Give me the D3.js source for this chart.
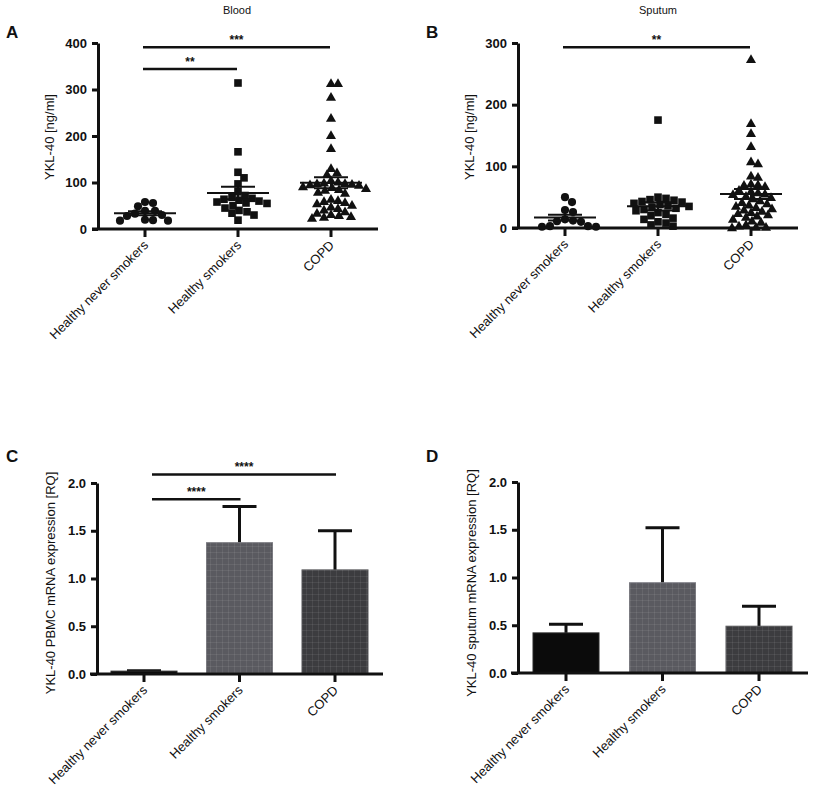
<!DOCTYPE html>
<html><head><meta charset="utf-8">
<script src="https://cdn.jsdelivr.net/npm/d3@7"></script>
<style>
body{margin:0;background:#fff}
text{font-family:"Liberation Sans",Arial,sans-serif;fill:#111}
</style>
</head><body>
<svg id="c" width="814" height="792"></svg>
<script>
// ---------------- DATA ----------------
const categories = ["Healthy never smokers", "Healthy smokers", "COPD"];

// Panel A: Blood YKL-40 [ng/ml]
const bloodNever   = [58, 56, 49, 39, 39, 33, 30, 28, 19, 18, 18, 20];
const bloodSmokers = [314, 166, 122, 110, 97, 80, 72, 68, 66, 64, 62, 60, 58, 56, 55, 50, 45, 40, 37, 34, 30, 19];
const bloodCOPD    = [314, 314, 284, 239, 202, 174, 131, 122, 118, 105, 102, 100, 99, 98, 97, 96, 95, 92, 90, 88,
                      86, 84, 80, 78, 65, 62, 60, 58, 55, 52, 48, 45, 42, 38, 35, 32, 30, 28, 26, 24];
const bloodTicks = [0, 100, 200, 300, 400];
const bloodSig = [{a: 0, b: 2, level: 391, label: "***"}, {a: 0, b: 1, level: 344, label: "**"}];

// Panel B: Sputum YKL-40 [ng/ml]
const sputumNever   = [50, 42, 29, 26, 14, 12, 11, 10, 3, 2, 2, 3];
const sputumSmokers = [175, 50, 48, 46, 45, 43, 42, 40, 38, 36, 35, 34, 32, 30, 28, 25, 22, 20, 16, 14, 10, 8, 5, 3];
const sputumCOPD    = [274, 170, 154, 133, 108, 105, 85, 83, 72, 71, 70, 68, 62, 60, 58, 56, 55, 52, 50, 48, 45,
                       42, 40, 38, 36, 34, 32, 30, 28, 26, 24, 22, 20, 18, 15, 12, 10, 6, 4, 2, 2, 1];
const sputumTicks = [0, 100, 200, 300];
const sputumSig = [{a: 0, b: 2, level: 293, label: "**"}];

// Panel C: PBMC mRNA expression [RQ] (mean, upper SEM)
const pbmcMean = [0.03, 1.375, 1.09];
const pbmcErr  = [0.004, 0.38, 0.41];
const pbmcSig = [{a: 0, b: 2, level: 2.09, label: "****"}, {a: 0, b: 1, level: 1.83, label: "****"}];

// Panel D: sputum mRNA expression [RQ]
const sputMrnaMean = [0.42, 0.945, 0.49];
const sputMrnaErr  = [0.09, 0.575, 0.21];

const rqTicks = [0, 0.5, 1.0, 1.5, 2.0];

// ---------------- DRAW ----------------
const svg = d3.select("#c");
const defs = svg.append("defs");
["p1", "p2"].forEach((id) => {
  const p = defs.append("pattern").attr("id", id).attr("width", 6).attr("height", 6)
    .attr("patternUnits", "userSpaceOnUse");
  p.append("path").attr("d", "M0 0.5H6M0.5 0V6").attr("stroke", "#fff")
    .attr("stroke-opacity", 0.07).attr("stroke-width", 1);
});

const barColors = ["#0b0b0b", "#5a5a60", "#3c3c3f"];
const barEdges = ["#2a2a2a", "#7a7a80", "#555558"];
const shapes = [d3.symbolCircle, d3.symbolSquare, d3.symbolTriangle];
const shapeSizes = [52, 58, 44];
const swarmGap = [8, 7.5, 7];

function makePanel(cfg) {
  const g = svg.append("g");
  const y = d3.scaleLinear().domain(cfg.domain).range([cfg.y0, cfg.yTop]);
  const x = d3.scalePoint().domain(categories).range(cfg.catRange);

  g.append("text").attr("x", cfg.letterX).attr("y", cfg.letterY).text(cfg.letter)
    .style("font-size", "17px").style("font-weight", "bold");
  if (cfg.title) g.append("text").attr("x", cfg.titleX).attr("y", 14).attr("text-anchor", "middle")
    .text(cfg.title).style("font-size", "11px");

  g.append("text").attr("transform", `translate(${cfg.yLabelX},${cfg.yLabelY}) rotate(-90)`)
    .attr("text-anchor", "middle").text(cfg.yLabel).style("font-size", "13px");

  const ya = d3.axisLeft(y).tickValues(cfg.ticks).tickSize(6).tickPadding(5).tickSizeOuter(0)
    .tickFormat(cfg.fmt);
  const yg = g.append("g").attr("transform", `translate(${cfg.axisX},0)`).call(ya);
  yg.select(".domain").attr("stroke", "#111").attr("stroke-width", 3);
  yg.selectAll(".tick line").attr("stroke", "#111").attr("stroke-width", 3);
  yg.selectAll(".tick text").style("font-size", "13px").style("font-weight", "bold")
    .style("font-family", '"Liberation Sans",Arial,sans-serif').attr("fill", "#111");

  if (cfg.groups) {
    cfg.groups.forEach((vals, i) => {
      const cx = x(categories[i]);
      const pts = swarm(vals, y, cx, swarmGap[i]);
      g.selectAll(null).data(pts).enter().append("path")
        .attr("d", d3.symbol().type(shapes[i]).size(shapeSizes[i]))
        .attr("transform", (d) => `translate(${d.x},${d.y + (i === 2 ? 1 : 0)})`)
        .attr("fill", "#111");
      const m = d3.mean(vals), s = d3.deviation(vals) / Math.sqrt(vals.length);
      const ln = (x1, x2, y1, y2) => g.append("line").attr("x1", x1).attr("x2", x2).attr("y1", y1).attr("y2", y2)
        .attr("stroke", "#111").attr("stroke-width", 2);
      ln(cx - 31, cx + 31, y(m), y(m));
      ln(cx - 17, cx + 17, y(m + s), y(m + s));
      ln(cx - 17, cx + 17, y(m - s), y(m - s));
      ln(cx, cx, y(m + s), y(m - s));
    });
  }
  if (cfg.means) {
    cfg.means.forEach((m, i) => {
      const cx = x(categories[i]);
      const e = cfg.errs[i];
      g.append("line").attr("x1", cx).attr("x2", cx).attr("y1", y(m)).attr("y2", y(m + e))
        .attr("stroke", "#111").attr("stroke-width", 3);
      g.append("line").attr("x1", cx - 17).attr("x2", cx + 17).attr("y1", y(m + e)).attr("y2", y(m + e))
        .attr("stroke", "#111").attr("stroke-width", 3);
      g.append("rect").attr("x", cx - 33).attr("width", 66).attr("y", y(m)).attr("height", y(0) - y(m))
        .attr("fill", barColors[i]).attr("stroke", barEdges[i]).attr("stroke-width", 1);
      if (i > 0) g.append("rect").attr("x", cx - 33).attr("width", 66).attr("y", y(m)).attr("height", y(0) - y(m))
        .attr("fill", `url(#p${i})`);
    });
  }

  g.append("line").attr("x1", cfg.xStart).attr("x2", cfg.xEnd).attr("y1", cfg.y0).attr("y2", cfg.y0)
    .attr("stroke", "#111").attr("stroke-width", 3);
  categories.forEach((c) => {
    const cx = x(c);
    g.append("line").attr("x1", cx).attr("x2", cx).attr("y1", cfg.y0).attr("y2", cfg.y0 + 8)
      .attr("stroke", "#111").attr("stroke-width", 3);
    g.append("text").attr("transform", `translate(${cx + 4},${cfg.y0 + 17}) rotate(-45)`)
      .attr("text-anchor", "end").text(c).style("font-size", "13px");
  });

  (cfg.sig || []).forEach((s) => {
    const x1 = x(categories[s.a]) + cfg.sigInset, x2 = x(categories[s.b]) + cfg.sigEnd;
    const yy = y(s.level);
    g.append("line").attr("x1", x1).attr("x2", x2).attr("y1", yy).attr("y2", yy)
      .attr("stroke", "#111").attr("stroke-width", 2.5);
    g.append("text").attr("x", (x1 + x2) / 2).attr("y", yy - 3).attr("text-anchor", "middle")
      .text(s.label).style("font-size", "12px").style("font-weight", "bold");
  });
}

function swarm(values, y, cx, d) {
  const pts = values.map((v) => ({v: v, y: y(v)})).sort((a, b) => a.y - b.y);
  const placed = [];
  pts.forEach((p) => {
    for (let k = 0; k < 400; k++) {
      const off = k === 0 ? 0 : (k % 2 ? 1 : -1) * Math.ceil(k / 2);
      const xx = cx + off;
      if (placed.every((q) => (q.x - xx) ** 2 + (q.y - p.y) ** 2 >= d * d)) {
        p.x = xx; placed.push(p); break;
      }
    }
  });
  return placed;
}

const f0 = d3.format("d"), f1 = d3.format(".1f");

makePanel({letter: "A", letterX: 6, letterY: 38, title: "Blood", titleX: 237,
  domain: [0, 400], ticks: bloodTicks, fmt: f0, y0: 229, yTop: 43, axisX: 98, xStart: 92, xEnd: 378,
  catRange: [145, 331], yLabel: "YKL-40 [ng/ml]", yLabelX: 54, yLabelY: 137,
  groups: [bloodNever, bloodSmokers, bloodCOPD], sig: bloodSig, sigInset: -2, sigEnd: -1});

makePanel({letter: "B", letterX: 426, letterY: 38, title: "Sputum", titleX: 658,
  domain: [0, 300], ticks: sputumTicks, fmt: f0, y0: 228, yTop: 43, axisX: 518, xStart: 512, xEnd: 798,
  catRange: [565, 751], yLabel: "YKL-40 [ng/ml]", yLabelX: 474, yLabelY: 137,
  groups: [sputumNever, sputumSmokers, sputumCOPD], sig: sputumSig, sigInset: -2, sigEnd: -1});

makePanel({letter: "C", letterX: 6, letterY: 462,
  domain: [0, 2], ticks: rqTicks, fmt: f1, y0: 674, yTop: 483, axisX: 97, xStart: 90, xEnd: 383,
  catRange: [144, 335], yLabel: "YKL-40 PBMC mRNA expression [RQ]", yLabelX: 55, yLabelY: 583,
  means: pbmcMean, errs: pbmcErr, sig: pbmcSig, sigInset: 8, sigEnd: 1});

makePanel({letter: "D", letterX: 426, letterY: 462,
  domain: [0, 2], ticks: rqTicks, fmt: f1, y0: 673, yTop: 482, axisX: 518, xStart: 511, xEnd: 808,
  catRange: [566, 759], yLabel: "YKL-40 sputum mRNA expression [RQ]", yLabelX: 476, yLabelY: 583,
  means: sputMrnaMean, errs: sputMrnaErr});
</script>
</body></html>
